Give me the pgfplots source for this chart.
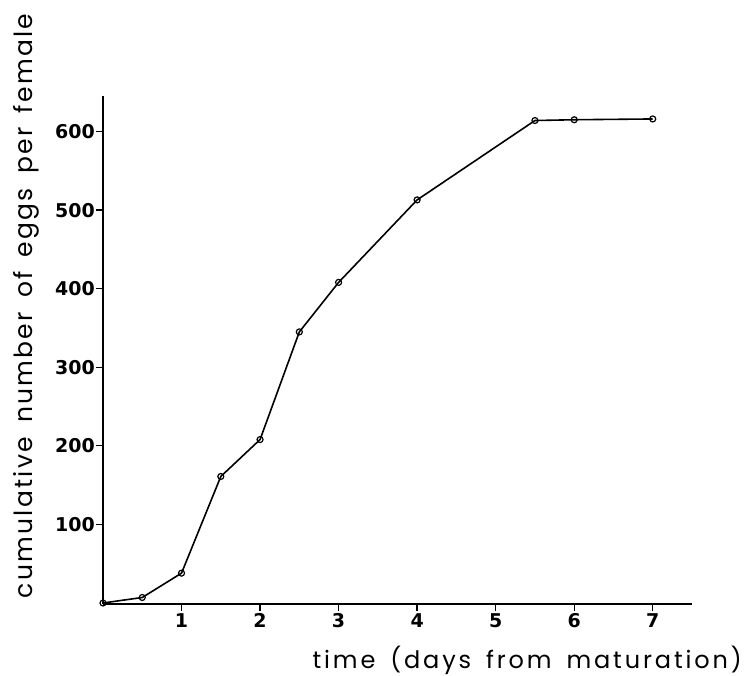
\documentclass[border=0pt]{standalone}
\usepackage{fontspec}
\setmainfont{Poppins}
\newfontfamily\xlabfont[LetterSpace=12,WordSpace=1.6]{Poppins}
\newfontfamily\ylabfont[LetterSpace=9,WordSpace=1.6]{Poppins}
\newfontfamily\tickfont{DejaVu Sans}
\usepackage{pgfplots}
\pgfplotsset{compat=1.18}
\begin{document}
\begin{tikzpicture}[x=1pt,y=1pt]
\begin{axis}[
  at={(0pt,0pt)}, anchor=origin,
  scale only axis,
  width=589pt, height=508pt,
  xmin=0, xmax=7.5,
  ymin=-1.5, ymax=645,
  axis x line=bottom, axis y line=left,
  axis line style={-, line width=1.6pt},
  xtick={1,2,3,4,5,6,7},
  ytick={100,200,300,400,500,600},
  tick style={black, line width=1.3pt},
  major tick length=7pt,
  xtick align=outside, ytick align=outside,
  tick label style={font=\tickfont\bfseries\fontsize{19}{22}\selectfont},
  /pgf/number format/assume math mode=true,
  xticklabel style={inner sep=1pt, yshift=-1pt},
  yticklabel style={inner sep=1pt},
  clip=false,
]
\addplot[black, line width=1.6pt, mark=o, mark size=3pt,
  mark options={fill=white, line width=1.2pt}]
coordinates {
(0,0) (0.5,7) (1,38) (1.5,161) (2,208) (2.5,345) (3,408) (4,513) (5.5,614) (6,615) (7,616)
};
\end{axis}
\node[anchor=base east, inner sep=0pt, font=\xlabfont\fontsize{24}{28}\selectfont] at (639pt,-66pt) {time (days from maturation)};
\node[rotate=90, anchor=base, inner sep=0pt, font=\ylabfont\fontsize{25}{30}\selectfont] at (-70pt,297pt) {cumulative number of eggs per female};
\pgfresetboundingbox
\path (-103pt,-73pt) rectangle (641pt,603pt);
\end{tikzpicture}
\end{document}
